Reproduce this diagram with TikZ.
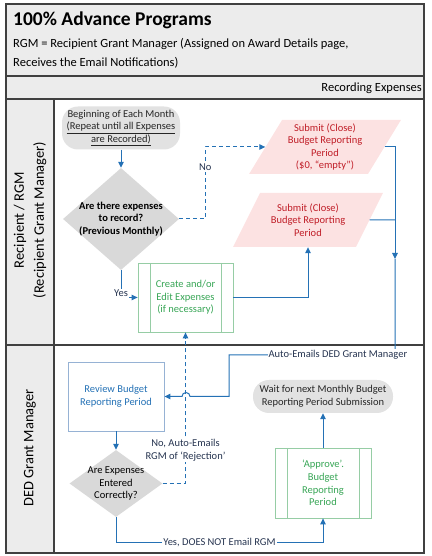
\documentclass[tikz,border=0pt]{standalone}
\usepackage{fontspec}
\setmainfont{Carlito}
\usetikzlibrary{shapes.geometric, arrows.meta}

\definecolor{flowblue}{RGB}{36,113,181}
\definecolor{framegray}{RGB}{64,64,64}
\definecolor{headgray}{RGB}{236,236,236}
\definecolor{termgray}{RGB}{226,226,226}
\definecolor{diagray}{RGB}{217,217,217}
\definecolor{inkgray}{RGB}{38,38,38}
\definecolor{notegray}{RGB}{38,52,80}
\definecolor{iopink}{RGB}{252,226,226}
\definecolor{iored}{RGB}{192,30,40}
\definecolor{subgreen}{RGB}{150,205,165}
\definecolor{textgreen}{RGB}{55,165,85}
\definecolor{procblue}{RGB}{150,178,212}

\newcommand{\nodefont}{\fontsize{10.5}{12.6}\selectfont}

\tikzstyle{startstop} = [rectangle, rounded corners=16pt,
minimum width=118pt, minimum height=43pt,
align=center, text=inkgray, font=\nodefont,
fill=termgray]
\tikzstyle{io} = [trapezium,
trapezium stretches=true,
trapezium left angle=60,
trapezium right angle=120,
minimum width=152pt, minimum height=54pt,
align=center, text=iored, font=\nodefont,
fill=iopink]
\tikzstyle{process} = [rectangle,
minimum width=96pt, minimum height=69pt,
align=center, text=flowblue, font=\nodefont,
draw=procblue, line width=0.9pt]
\tikzstyle{subproc} = [rectangle,
minimum width=96pt, minimum height=69pt,
align=center, text=textgreen, font=\nodefont,
draw=subgreen, line width=0.8pt,
path picture={
  \draw[subgreen, line width=0.8pt] ([xshift=12pt]path picture bounding box.north west) -- ([xshift=12pt]path picture bounding box.south west);
  \draw[subgreen, line width=0.8pt] ([xshift=-12pt]path picture bounding box.north east) -- ([xshift=-12pt]path picture bounding box.south east);
}]
\tikzstyle{decision} = [diamond, inner sep=-6pt,
minimum width=116pt, minimum height=102pt,
align=center, font=\nodefont,
fill=diagray]
\tikzstyle{note} = [fill=white, inner sep=1pt, align=center, text=notegray, font=\nodefont]
\tikzstyle{lane} = [rotate=90, align=center, font=\fontsize{14.5}{20}\selectfont]
\tikzstyle{frame} = [framegray, line width=1.3pt]
\tikzstyle{line} = [flowblue, line width=1pt]
\tikzstyle{arrow} = [line, -{Triangle[length=6pt, width=5.5pt]}]
\tikzstyle{dasharrow} = [arrow, dash pattern=on 4pt off 3pt]

\begin{document}
\begin{tikzpicture}[x=1pt, y=1pt, node distance=50pt]
                \useasboundingbox (0,0) rectangle (431,556);

                % header and lanes
                \fill[headgray] (6,457) rectangle (424,552);
                \fill[headgray] (6,3) rectangle (54,457);
                \draw[frame] (6,3) rectangle (424,552);
                \draw[frame] (6,480) -- (424,480);
                \draw[frame] (6,457) -- (424,457);
                \draw[frame] (6,211) -- (424,211);
                \draw[frame] (54,3) -- (54,457);

                \node (title) [anchor=west, inner sep=0pt, font=\fontsize{19.5}{22}\selectfont\bfseries] at (13,535.5) {100\% Advance Programs};
                \node (subtitle) [anchor=west, inner sep=0pt, align=left, font=\fontsize{12.5}{18.7}\selectfont] at (13,502.5) {RGM = Recipient Grant Manager (Assigned on Award Details page,\\Receives the Email Notifications)};
                \node (phase) [anchor=east, inner sep=0pt, font=\fontsize{12.5}{15}\selectfont] at (422,468) {Recording Expenses};
                \node (laneRecip) [lane] at (30,336) {Recipient / RGM\\(Recipient Grant Manager)};
                \node (laneDED) [lane] at (30,108) {DED Grant Manager};

                % recipient lane
                \node (start) [startstop] at (121,428) {Beginning of Each Month\\\underline{(Repeat until all Expenses}\\\underline{are Recorded)}};
                \node (decide1) [decision, font=\nodefont\bfseries, below of=start, yshift=-41pt] {Are there expenses\\to record?\\(Previous Monthly)};
                \node (create) [subproc, minimum width=95pt, below of=decide1, xshift=64.5pt, yshift=-28.5pt] {Create and/or\\Edit Expenses\\(if necessary)};
                \node (P1) [io] at (325,409) {Submit (Close)\\Budget Reporting\\Period\\(\$0, “empty”)};
                \node (P2) [io, minimum width=150pt, below of=P1, xshift=-17pt, yshift=-23pt] {Submit (Close)\\Budget Reporting\\Period};

                % DED lane
                \node (review) [process] at (116,159.5) {Review Budget\\Reporting Period};
                \node (decide2) [decision, minimum width=93pt, minimum height=67pt, below of=review, yshift=-37pt] {Are Expenses\\Entered\\Correctly?};
                \node (wait) [startstop, minimum width=140pt, minimum height=33pt, right of=review, xshift=157pt] {Wait for next Monthly Budget\\Reporting Period Submission};
                \node (approve) [subproc, minimum height=70pt, below of=wait, yshift=-36.5pt] {‘Approve’.\\Budget\\Reporting\\Period};

                \coordinate (mergeA) at (395,297);
                \coordinate (mailTurn) at (229,201);
                \coordinate (hopR) at (190,159.5);

                \draw [arrow] (start) -- (decide1);

                \draw [dasharrow] (decide1.east) -- ++(26,0) |- node (noNote) [note, pos=0.36] {No} (P1);
                \draw [arrow] (decide1.south) |- node (yesNote) [note, pos=0.42] {Yes} (create);

                \draw [arrow] (create) -| (P2);

                \draw [arrow] (P1) -| (mergeA);
                \draw [line] (P2) -- (P2 -| mergeA);

                \draw [arrow] (mergeA) |- node (mailNote) [note, pos=0.672] {Auto-Emails DED Grant Manager} (mailTurn) |- (hopR) arc[start angle=0, end angle=180, radius=4] -- (review);

                \draw [arrow] (review) -- (decide2);

                \draw [dasharrow] (decide2.east) -| node (rejectNote) [note, pos=0.61] {No, Auto-Emails\\RGM of ‘Rejection’} (create.south);

                \draw [arrow] (decide2.south) -- ++(0,-25) -| node (okNote) [note, pos=0.25] {Yes, DOES NOT Email RGM} (approve);

                \draw [arrow] (approve) -- (wait);
            \end{tikzpicture}
\end{document}
